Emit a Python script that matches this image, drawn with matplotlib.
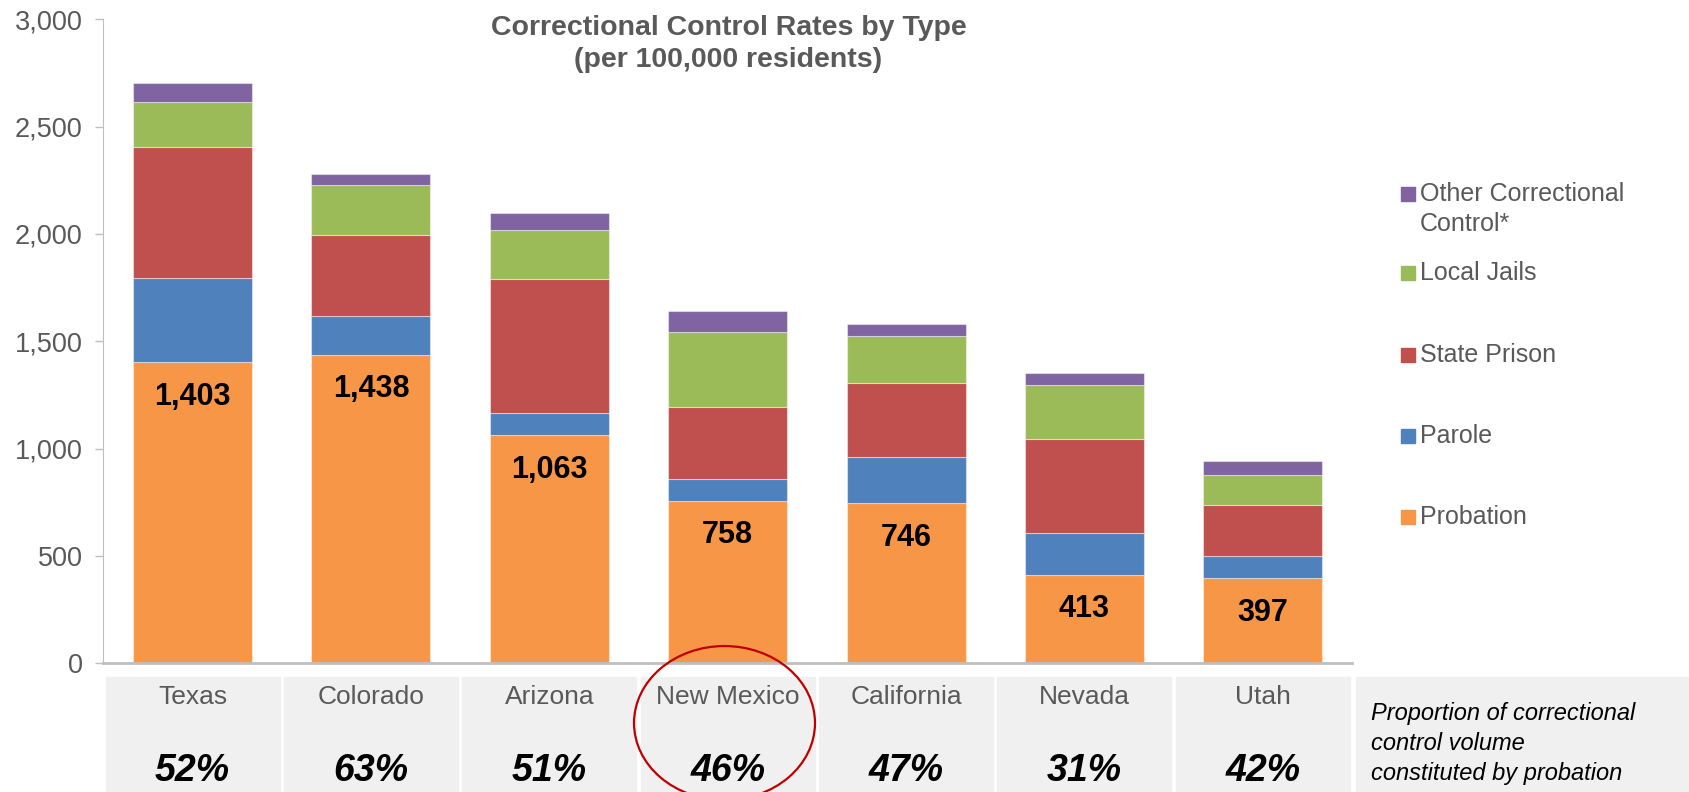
import matplotlib
matplotlib.use("Agg")
import matplotlib.pyplot as plt
from matplotlib.patches import Rectangle, Ellipse
from matplotlib import transforms
from matplotlib.ticker import FuncFormatter

NARROW = ['Liberation Sans Narrow', 'Liberation Sans', 'DejaVu Sans']
REGULAR = ['Liberation Sans', 'DejaVu Sans']
GRAY = '#595959'

states = ['Texas', 'Colorado', 'Arizona', 'New Mexico', 'California', 'Nevada', 'Utah']
probation = [1403, 1438, 1063, 758, 746, 413, 397]
parole = [393, 178, 104, 102, 213, 195, 104]
state_prison = [609, 381, 624, 335, 348, 438, 238]
local_jails = [208, 231, 227, 348, 219, 252, 137]
other_control = [91, 50, 79, 97, 54, 54, 65]
probation_share = ['52%', '63%', '51%', '46%', '47%', '31%', '42%']

series = [
    ('Probation', probation, '#F79646'),
    ('Parole', parole, '#4F81BD'),
    ('State Prison', state_prison, '#C0504D'),
    ('Local Jails', local_jails, '#9BBB59'),
    ('Other Correctional\nControl*', other_control, '#8064A2'),
]

fig = plt.figure(figsize=(16.9, 7.92), dpi=100)
ax = fig.add_axes([0.0612, 0.1625, 0.8 - 0.0612, 0.9756 - 0.1625])

x = list(range(len(states)))
bottom = [0] * len(states)
for name, vals, color in series:
    ax.bar(x, vals, 0.667, bottom=bottom, color=color,
           edgecolor=(1, 1, 1, 0.45), linewidth=0.8, zorder=2)
    bottom = [b + v for b, v in zip(bottom, vals)]

# probation value labels inside the orange segment
for i, v in enumerate(probation):
    ax.annotate(f'{v:,}', (i, v), xytext=(0, -25), textcoords='offset points',
                ha='center', va='center', fontsize=22, fontweight='bold',
                family=NARROW, color='black')

ax.set_xlim(-0.5, len(states) - 0.5)
ax.set_ylim(0, 3000)
ax.set_yticks(range(0, 3001, 500))
ax.yaxis.set_major_formatter(FuncFormatter(lambda v, p: f'{int(v):,}'))
ax.set_xticks([])
for lab in ax.get_yticklabels():
    lab.set_family(NARROW)
ax.tick_params(axis='y', labelsize=19.5, labelcolor=GRAY, color='#bfbfbf',
               length=6, width=1, pad=9)
for s in ['top', 'right']:
    ax.spines[s].set_visible(False)
ax.spines['left'].set_color('#bfbfbf')
ax.spines['bottom'].set_color('#bfbfbf')
ax.spines['bottom'].set_linewidth(2)

fig.text(0.431, 0.944, 'Correctional Control Rates by Type\n(per 100,000 residents)',
         ha='center', va='center', fontsize=20.5, fontweight='bold', color=GRAY,
         family=NARROW, linespacing=1.3)

# legend drawn by hand (top entry first)
legend_y = [0.736, 0.655, 0.552, 0.4495, 0.347]
for (name, vals, color), yy in zip(reversed(series), legend_y):
    first_line = 0.755 if '\n' in name else yy
    fig.add_artist(Rectangle((1401 / 1690, first_line - 7 / 792), 14 / 1690, 14 / 792,
                             transform=fig.transFigure, color=color))
    fig.text(1420 / 1690, yy, name, ha='left', va='center', fontsize=18,
             color=GRAY, family=REGULAR, linespacing=1.35)

# table under the chart
blend = transforms.blended_transform_factory(ax.transData, fig.transFigure)
cell_bottom, cell_top = 0.0, 1 - 677 / 792
gap = 0.012
for i, (st, pct) in enumerate(zip(states, probation_share)):
    fig.add_artist(Rectangle((i - 0.5 + gap, cell_bottom), 1 - 2 * gap, cell_top - cell_bottom,
                             transform=blend, color='#f0f0f0', zorder=0))
    fig.text(i, 0.1205, st, transform=blend, ha='center', va='center',
             fontsize=19, color=GRAY, family=NARROW)
    fig.text(i, 0.026, pct, transform=blend, ha='center', va='center',
             fontsize=27, fontweight='bold', style='italic', color='black', family=NARROW)
fig.add_artist(Rectangle((1356 / 1690, cell_bottom), 1 - 1356 / 1690, cell_top - cell_bottom,
                         transform=fig.transFigure, color='#f0f0f0', zorder=0))
fig.text(1371 / 1690, 0.061, 'Proportion of correctional\ncontrol volume\nconstituted by probation',
         ha='left', va='center', fontsize=17, style='italic', color='black',
         family=NARROW, linespacing=1.38)

# circle around New Mexico
fig.add_artist(Ellipse((0.4287, 0.0871), 0.1071, 0.1944, transform=fig.transFigure,
                       fill=False, edgecolor='#C00000', linewidth=1.6, zorder=5))

fig.savefig('out.png', dpi=100)
